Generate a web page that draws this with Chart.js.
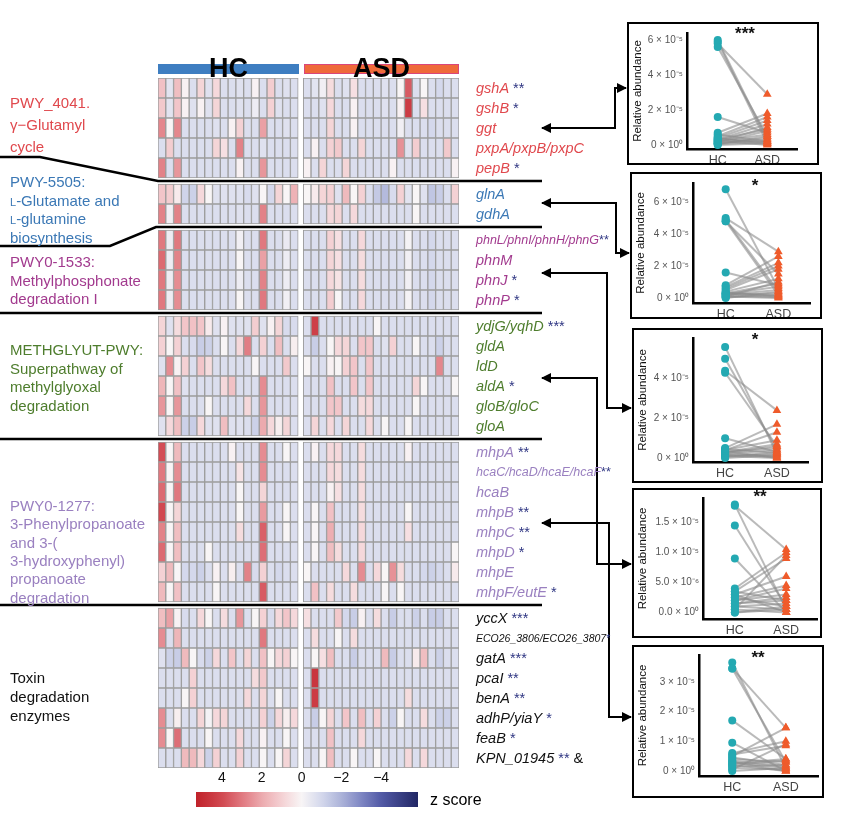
<!DOCTYPE html>
<html>
<head>
<meta charset="utf-8">
<script src="https://cdn.jsdelivr.net/npm/chart.js@4.4.1/dist/chart.umd.min.js"></script>
<style>
body { margin: 0; background: #fff; font-family: "Liberation Sans", Arial, sans-serif; }
#page { position: relative; width: 846px; height: 816px; overflow: hidden; background: #fff; }
.abs { position: absolute; white-space: nowrap; }
.box { position: absolute; border: 2.5px solid #000; box-sizing: border-box; }
</style>
</head>
<body>
<div id="page">
  <div class="abs" id="heatWrap" style="left:158px;top:78px;width:301px;height:690px;"><canvas id="heat"></canvas></div>
  <div class="abs" style="left:158px;top:64px;width:141px;height:10px;background:#3e7ec1;"></div>
  <div class="abs" style="left:304px;top:64px;width:155px;height:10px;background:#ef6a3a;box-sizing:border-box;border:1.5px solid #d9467c;"></div>
  <div class="abs" style="left:158px;top:53px;width:141px;text-align:center;font-weight:bold;font-size:27px;line-height:30px;">HC</div>
  <div class="abs" style="left:304px;top:53px;width:155px;text-align:center;font-weight:bold;font-size:27px;line-height:30px;">ASD</div>
  <div class="abs" style="left:196px;top:762px;width:222px;height:45px;"><canvas id="cbar"></canvas></div>
  <div class="abs" style="left:430px;top:790px;font-size:16px;line-height:20px;">z score</div>
  <svg class="abs" id="lines" style="left:0;top:0;" width="846" height="816"></svg>
</div>
<script>
// ---- heatmap values (z score), HC = 18 columns, ASD = 20 columns ----
var glutamylGenes = ["gshA", "gshB", "ggt", "pxpA/pxpB/pxpC", "pepB"];
var glutamylStars = ["**", "*", "", "", "*"];
var glutamylHC = [
  [1.4,-0.6,1.5,0.1,-0.8,0.9,-0.7,0.8,-0.8,-0.8,-0.7,-0.8,0.1,-0.8,1.1,-0.8,-0.7,-0.8],
  [1.2,-0.6,1.3,0.1,-0.7,0.1,-0.7,0.9,-0.8,-0.8,-0.7,-0.8,-0.3,-0.8,1.0,-0.7,-0.8,-0.8],
  [2.7,0.0,2.7,-0.8,-0.8,-0.8,-0.8,-0.7,-0.8,0.1,1.0,-0.8,-0.8,2.2,-0.8,-0.8,-0.7,-0.8],
  [-0.8,1.1,-0.8,-0.8,-0.8,-0.8,-0.8,0.9,0.6,-0.8,2.8,-0.8,-0.8,-0.7,-0.8,-0.8,-0.8,-0.8],
  [2.8,-0.8,2.4,-0.8,-0.8,-0.8,-0.8,-0.8,-0.8,-0.8,0.1,-0.8,-0.8,2.4,-0.8,-0.8,-0.8,-0.8]
];
var glutamylASD = [
  [-0.8,-0.6,-0.2,0.7,-0.8,-0.7,0.6,-0.8,-0.8,-0.8,-0.7,-0.8,0.0,3.6,-0.8,0.0,-0.8,-1.0,-0.8,-0.8],
  [-0.8,-0.8,-0.7,0.8,-0.8,-0.8,0.1,-0.8,-0.8,-0.8,-0.7,-0.8,0.1,4.4,-0.8,0.6,-0.8,-0.8,-0.8,-0.8],
  [-0.8,-0.8,-0.8,0.9,-0.8,-0.8,0.1,-0.8,-0.8,-0.8,-0.8,-0.8,-0.2,-0.8,-0.8,-0.8,-1.0,-0.8,-0.8,-0.8],
  [-0.8,0.1,-0.8,1.0,1.2,-0.8,-0.8,0.9,-0.8,-0.8,-0.8,-0.8,2.5,-0.7,1.1,-0.8,-0.8,-0.8,1.2,-0.8],
  [0.1,-0.8,0.9,-0.8,-0.8,0.9,-0.8,-0.8,-0.8,-0.8,-0.8,0.1,-0.8,-0.8,-0.8,-0.8,-0.8,-0.8,-0.8,0.1]
];

var glutamateGenes = ["glnA", "gdhA"];
var glutamateStars = ["", ""];
var glutamateHC = [
  [1.3,1.1,0.3,-1.1,-1.2,0.8,0.0,-0.7,-0.7,-0.7,-0.7,-0.9,-0.7,0.0,-1.0,0.9,0.0,1.8],
  [2.8,-0.2,2.8,-0.8,-0.8,-0.8,-0.8,-0.8,-0.8,-0.8,-0.7,-0.8,-0.8,2.8,-0.8,-0.8,-0.8,-0.8]
];
var glutamateASD = [
  [0.0,0.3,0.9,1.0,-0.7,1.6,0.0,1.0,-0.8,-1.4,-1.8,-0.9,1.0,-0.6,0.0,-0.7,-1.5,-1.3,-0.8,1.0],
  [-0.8,-0.8,-0.8,0.8,0.9,-0.8,0.8,-0.8,-0.8,-0.8,-0.8,-0.8,-0.8,-0.8,0.0,-0.8,-0.8,-0.8,-0.8,-0.8]
];

var phnGenes = ["phnL/phnI/phnH/phnG", "phnM", "phnJ", "phnP"];
var phnStars = ["**", "", "*", "*"];
var phnHC = [
  [3.0,-0.3,3.0,-0.8,-0.8,-0.8,-0.8,-0.8,-0.8,-0.8,-0.2,-0.8,-0.8,3.0,-0.8,-0.8,-0.4,-0.8],
  [3.3,-0.3,2.8,-0.8,-0.8,-0.8,-0.8,-0.8,-0.8,-0.8,0.0,-0.8,-0.8,2.2,-0.8,-0.8,-0.3,-0.8],
  [3.0,-0.3,2.6,-0.8,-0.8,-0.8,-0.8,-0.8,-0.8,-0.8,-0.3,-0.8,-0.8,2.8,-0.8,-0.8,-0.3,-0.8],
  [3.0,-0.3,2.6,-0.8,-0.8,-0.8,-0.8,-0.8,-0.8,-0.8,0.0,-0.8,-0.8,3.0,-0.8,-0.8,-0.2,-0.8]
];
var phnASD = [
  [-0.8,-0.8,-0.8,1.0,0.6,-0.8,-0.8,0.8,-0.8,-0.8,-0.8,-0.8,-0.8,-0.1,-0.8,-0.8,-1.0,-0.8,-0.8,-0.8],
  [-0.8,-0.8,-0.8,0.9,0.6,-0.8,-0.8,0.7,-0.8,-0.8,-0.8,-0.8,-0.8,-0.2,-0.8,-0.8,-1.0,-0.8,-0.8,-0.8],
  [-0.8,-0.8,-0.8,0.8,0.5,-0.8,-0.8,0.7,-0.8,-0.8,-0.8,-0.8,-0.8,-0.2,-0.8,-0.8,-1.0,-0.8,-0.8,-0.8],
  [-0.8,-0.8,-0.8,1.1,0.0,-0.8,-0.8,0.8,-0.8,-0.8,-0.8,-0.8,-0.8,-0.1,-0.8,-0.8,-1.0,-0.8,-0.8,-0.8]
];

var methGenes = ["ydjG/yqhD", "gldA", "ldD", "aldA", "gloB/gloC", "gloA"];
var methStars = ["***", "", "", "*", "", ""];
var methHC = [
  [0.9,-0.7,0.7,1.3,1.4,1.3,0.3,-0.7,0.1,-0.7,-0.7,-0.7,1.1,-0.7,0.1,0.9,-0.9,-0.9],
  [1.0,0.0,1.0,-0.8,-0.9,-1.3,-1.2,-0.8,0.0,-0.8,0.8,2.9,-0.8,1.0,-0.8,1.5,-0.8,0.2],
  [-0.7,2.6,0.1,1.0,-0.8,1.3,0.7,-0.8,-0.8,-0.8,-0.8,-0.8,0.0,-0.8,-0.8,-0.8,1.2,-0.8],
  [1.7,0.0,1.4,-0.7,-0.8,-0.8,-0.8,-0.8,0.8,1.4,-0.8,-0.8,-0.8,2.6,-0.8,-0.8,-0.8,-0.8],
  [2.4,0.0,2.4,-0.8,-0.8,-0.8,0.0,-0.8,-0.8,-0.8,-0.8,0.8,-0.8,2.4,-0.8,-0.8,-0.8,-0.8],
  [-0.7,0.8,1.5,-1.2,-1.3,0.8,-0.7,-0.7,1.5,-0.7,-0.7,-0.8,-1.2,2.0,0.8,0.2,0.9,-0.8]
];
var methASD = [
  [-0.8,4.3,-0.8,-0.8,-0.8,-0.8,-0.8,-0.8,-0.8,0.0,-0.8,-0.8,-0.8,-0.8,-0.8,-0.8,-0.8,-0.8,-0.8,-0.8],
  [-0.8,-1.3,-0.8,0.0,0.8,0.9,-0.8,1.3,1.3,-0.8,-0.7,1.0,-0.8,-0.8,0.0,-0.8,-0.8,-1.2,-0.8,-0.8],
  [0.0,-0.8,-0.8,0.1,0.0,1.0,1.3,-0.8,1.3,-0.8,-0.8,-0.8,-0.8,-0.8,-0.8,-0.8,-0.8,2.7,-0.8,-0.8],
  [-0.8,-0.8,-0.8,1.4,-0.8,-0.8,1.3,-0.8,1.3,-0.8,-0.8,-0.8,-0.8,-0.8,0.9,0.0,-0.8,-0.8,-0.8,0.0],
  [-0.8,-0.8,-0.8,1.3,1.3,-0.8,-0.8,0.7,0.8,-0.8,-0.8,-0.8,-0.8,-0.8,0.0,-0.8,-0.8,-0.8,-0.8,-0.8],
  [-0.8,0.9,-0.8,0.8,-0.8,0.9,-0.8,-0.8,0.8,-0.8,0.0,-0.8,-0.8,0.0,-0.8,-0.8,-0.8,-0.8,-0.8,-0.8]
];

var phenylGenes = ["mhpA", "hcaC/hcaD/hcaE/hcaF", "hcaB", "mhpB", "mhpC", "mhpD", "mhpE", "mhpF/eutE"];
var phenylStars = ["**", "**", "", "**", "**", "*", "", "*"];
var phenylHC = [
  [3.9,0.0,1.6,-0.8,-0.8,-0.8,-0.8,-0.8,-0.8,0.1,-0.8,-0.8,-0.8,2.6,-0.8,-0.8,0.0,-0.8],
  [3.0,0.0,2.6,-0.8,-0.8,-0.8,-0.8,-0.8,-0.8,-0.8,0.5,-0.8,-0.8,2.6,-0.8,-0.8,-0.8,-0.8],
  [3.3,0.0,3.0,-0.8,-0.8,-0.8,-0.8,-0.8,-0.8,-0.8,0.0,-0.8,-0.8,0.9,-0.8,-0.8,-0.8,-0.8],
  [4.0,0.0,0.9,-0.8,-0.8,-0.8,-0.8,-0.8,-0.8,-0.8,0.0,-0.8,-0.8,2.3,-0.8,-0.8,0.0,-0.8],
  [2.8,0.0,1.5,-0.8,-0.8,-0.8,-0.8,-0.8,-0.8,-0.8,0.7,-0.8,-0.8,3.5,-0.8,-0.8,0.0,-0.8],
  [3.3,0.0,1.5,-0.8,-0.8,-0.8,0.0,-0.8,-0.8,-0.8,-0.8,-0.8,-0.8,3.2,-0.8,-0.8,-0.8,-0.8],
  [1.0,1.6,0.0,-1.0,-1.0,-1.2,-0.8,0.1,-0.8,0.2,-0.8,2.8,-0.9,1.0,-0.8,-1.0,-0.8,-0.8],
  [1.6,0.0,1.4,-0.8,-0.8,-0.8,-0.8,0.0,-0.8,-0.8,-0.8,-0.8,-0.8,3.6,-0.8,-0.8,-0.8,-0.8]
];
var phenylASD = [
  [-0.8,0.1,-0.8,0.8,0.8,-0.8,-0.8,0.7,-0.8,-0.8,-0.8,-0.8,-0.8,0.1,-0.8,-0.8,-0.8,-0.8,-0.8,-0.8],
  [-0.8,-0.8,-0.8,0.8,0.7,-0.8,-0.8,0.7,-0.8,-0.8,-0.8,-0.8,-0.8,-0.8,-0.8,-0.8,-0.8,-0.8,-0.8,-0.8],
  [-0.8,-0.8,-0.8,0.1,0.6,-0.8,-0.8,0.7,-0.8,-0.8,-0.8,-0.8,-0.8,-0.8,-0.8,-0.8,-0.8,-0.8,-0.8,-0.8],
  [-0.8,0.0,-0.8,1.4,-0.8,-0.8,-0.8,0.7,-0.8,-0.8,-0.8,-0.8,-0.8,0.0,-0.8,-0.8,-0.8,-0.8,-0.8,-0.8],
  [-0.8,0.0,-0.8,1.9,-0.8,-0.8,-0.8,0.8,-0.8,-0.8,-0.8,-0.8,-0.8,0.6,-0.8,-0.8,-0.8,-0.8,-0.8,-0.8],
  [-0.8,0.0,-0.8,1.5,0.7,-0.8,-0.8,0.8,-0.8,-0.8,-0.8,-0.8,-0.8,-0.8,-0.8,-0.8,-0.8,-0.8,-0.8,0.0],
  [0.0,-0.8,-0.8,-0.8,-0.8,0.8,-0.8,2.6,-0.8,0.8,0.0,2.5,0.7,-0.8,-0.8,-1.0,-1.2,-1.0,-0.8,0.3],
  [-0.8,1.4,-0.8,0.7,-0.8,-0.8,0.7,-0.8,-0.8,-0.8,0.0,-0.8,0.0,-0.8,-0.8,-0.8,-0.8,-0.8,-0.8,-0.8]
];

var toxinGenes = ["yccX", "ECO26_3806/ECO26_3807", "gatA", "pcaI", "benA", "adhP/yiaY", "feaB", "KPN_01945"];
var toxinStars = ["***", "*", "***", "**", "**", "*", "*", "**"];
var toxinHC = [
  [1.5,2.2,0.1,-0.9,-0.8,0.8,0.0,-0.8,0.7,-0.8,2.4,-0.8,0.0,1.0,-0.9,0.8,1.3,0.8],
  [2.6,-0.8,1.7,-0.8,-0.8,-0.8,-0.8,-0.8,-0.8,-0.8,-0.8,-0.8,-0.8,3.0,-0.8,-0.8,-0.8,-0.8],
  [-0.7,-1.2,-1.3,1.6,0.0,-0.9,-1.2,0.8,-0.8,1.3,-0.8,0.9,-0.8,1.4,0.0,0.8,1.0,0.0],
  [-0.8,-0.8,-0.8,-0.8,1.0,-0.8,-0.8,-0.8,-0.8,-0.8,-0.8,-0.8,0.7,1.2,-0.8,-0.8,-0.8,-0.8],
  [-0.8,-0.8,-0.8,0.0,1.0,-0.8,-0.8,-0.8,-0.8,-0.8,-0.8,0.8,-0.8,0.9,-0.8,0.0,-0.8,-0.8],
  [2.6,-0.8,0.2,-0.8,-0.8,0.9,-0.1,0.8,0.9,-0.8,-0.8,-0.8,-0.8,1.0,-1.2,0.8,0.2,0.8],
  [2.6,0.0,3.2,-0.8,-0.8,-0.8,0.0,-0.8,-0.8,-0.8,0.8,-0.8,-0.8,0.1,-0.8,-0.8,0.0,-0.8],
  [-0.8,-0.8,-0.8,1.6,1.6,0.8,-1.2,1.0,-0.8,-0.8,1.0,-0.8,-0.8,0.0,-0.8,0.0,0.9,-0.8]
];
var toxinASD = [
  [0.6,-0.8,-0.8,-0.8,1.2,-1.0,-1.3,0.1,-0.8,0.7,-0.8,-1.3,-0.8,-0.8,-1.2,-0.8,-1.3,-1.3,-0.8,-0.8],
  [-0.8,0.7,-0.8,-0.8,0.0,-0.8,0.7,-0.8,-0.8,-0.8,-0.8,-0.8,-0.8,-0.8,-0.8,-0.8,-0.8,-0.8,-0.8,-0.8],
  [-0.8,0.0,0.6,1.5,-0.8,-0.8,-1.3,-0.8,-0.8,-0.8,1.6,-1.3,-0.8,-0.8,0.3,1.5,-0.8,-1.2,-0.8,-0.8],
  [-0.8,4.6,-0.8,-0.8,-0.8,-0.8,-0.8,-0.8,-0.8,-0.8,-0.8,-0.8,-0.8,-0.8,-0.8,-0.8,-0.8,-0.8,-0.8,-0.8],
  [-0.8,4.4,-0.8,-0.8,-0.8,-0.8,-0.8,-0.8,-0.8,-0.8,-0.8,-0.8,-0.8,0.7,-0.8,-0.8,-0.8,-0.8,-0.8,-0.8],
  [-0.8,-1.3,0.0,0.9,-0.8,1.3,-0.8,1.5,-0.8,1.0,-0.8,-1.2,0.0,-0.8,-0.8,0.7,-0.8,-1.2,-1.2,-0.8],
  [-0.8,-0.8,-0.8,1.4,-0.8,-0.8,-0.8,0.8,-0.8,-0.8,-0.8,-0.8,-0.8,-0.8,-0.8,-0.8,-0.8,-0.8,-0.8,-0.8],
  [-0.8,-0.8,0.0,1.5,-0.8,-0.8,0.0,-0.8,-0.8,0.0,-0.8,-0.8,-0.8,0.8,-0.8,0.8,-0.8,-0.8,-0.8,-0.8]
];

// colour bar
var cbarTicks = [4, 2, 0, -2, -4];
var cbarMin = -5.85, cbarMax = 5.3;

// ---- paired abundance panels (HC[i] paired with ASD[i]) ----
var gshAHC  = [6.0e-5,5.9e-5,5.8e-5,5.6e-5,1.6e-5,0.7e-5,0.6e-5,0.5e-5,0.4e-5,0.4e-5,0.3e-5,0.3e-5,0.2e-5,0.2e-5,0.1e-5,0.1e-5,0.05e-5,0.0,0.15e-5,0.25e-5,0.05e-5,0.35e-5];
var gshAASD = [0.3e-5,0.1e-5,2.9e-5,0.5e-5,0.7e-5,1.8e-5,0.2e-5,1.6e-5,1.4e-5,0.05e-5,1.2e-5,0.9e-5,1.0e-5,0.6e-5,0.4e-5,0.3e-5,0.2e-5,0.1e-5,0.8e-5,0.0,0.5e-5,0.15e-5];
var glnAHC  = [6.8e-5,5.0e-5,4.9e-5,4.8e-5,4.8e-5,1.6e-5,0.8e-5,0.7e-5,0.6e-5,0.5e-5,0.4e-5,0.3e-5,0.3e-5,0.2e-5,0.2e-5,0.1e-5,0.1e-5,0.05e-5,0.0,0.35e-5,0.25e-5,0.15e-5];
var glnAASD = [0.6e-5,2.9e-5,0.4e-5,1.5e-5,0.2e-5,0.8e-5,2.6e-5,2.2e-5,2.0e-5,1.8e-5,1.2e-5,0.9e-5,0.1e-5,0.5e-5,0.3e-5,0.0,1.0e-5,0.2e-5,0.4e-5,0.15e-5,0.7e-5,0.05e-5];
var phnMHC  = [5.6e-5,5.0e-5,4.4e-5,4.3e-5,1.0e-5,0.5e-5,0.4e-5,0.4e-5,0.3e-5,0.3e-5,0.2e-5,0.2e-5,0.1e-5,0.1e-5,0.05e-5,0.0,0.15e-5,0.25e-5,0.35e-5,0.45e-5];
var phnMASD = [0.2e-5,0.4e-5,2.4e-5,0.6e-5,0.3e-5,1.7e-5,1.3e-5,0.9e-5,0.7e-5,0.5e-5,0.1e-5,0.4e-5,0.0,0.2e-5,0.3e-5,0.15e-5,0.05e-5,0.6e-5,0.0,0.25e-5];
var aldAHC  = [1.8e-5,1.78e-5,1.45e-5,0.9e-5,0.4e-5,0.35e-5,0.3e-5,0.25e-5,0.2e-5,0.2e-5,0.15e-5,0.1e-5,0.1e-5,0.05e-5,0.0,0.3e-5,0.15e-5,0.05e-5,0.25e-5,0.35e-5,0.0];
var aldAASD = [0.05e-5,1.05e-5,0.1e-5,0.0,1.0e-5,0.9e-5,0.6e-5,0.45e-5,0.4e-5,0.3e-5,0.2e-5,0.15e-5,0.05e-5,0.95e-5,0.1e-5,0.0,0.25e-5,0.0,0.1e-5,0.2e-5,0.05e-5];
var mhpBHC  = [3.65e-5,3.45e-5,3.45e-5,1.7e-5,0.95e-5,0.6e-5,0.55e-5,0.5e-5,0.4e-5,0.35e-5,0.3e-5,0.25e-5,0.2e-5,0.15e-5,0.1e-5,0.05e-5,0.0,0.3e-5,0.45e-5,0.2e-5];
var mhpBASD = [0.1e-5,1.45e-5,0.3e-5,0.4e-5,0.0,1.0e-5,0.85e-5,1.45e-5,0.3e-5,0.15e-5,0.1e-5,0.4e-5,0.0,0.2e-5,0.05e-5,0.9e-5,0.1e-5,0.0,0.2e-5,0.35e-5];

// ---- colour scale ----
var posStops = [[0,[248,245,246]],[1,[244,209,212]],[2,[236,170,174]],[3,[224,120,127]],[4,[209,72,80]],[5.3,[192,34,42]]];
var negStops = [[0,[248,245,246]],[1,[212,216,236]],[2,[172,179,217]],[3,[126,134,195]],[4,[82,90,166]],[5.85,[33,38,100]]];
function zColor(z) {
    var stops = z >= 0 ? posStops : negStops;
    var a = Math.abs(z);
    for (var i = 1; i < stops.length; i++) {
        if (a <= stops[i][0] || i === stops.length - 1) {
            var t = Math.min(1, (a - stops[i - 1][0]) / (stops[i][0] - stops[i - 1][0]));
            var c0 = stops[i - 1][1], c1 = stops[i][1];
            return "rgb(" + Math.round(c0[0] + (c1[0] - c0[0]) * t) + "," +
                Math.round(c0[1] + (c1[1] - c0[1]) * t) + "," +
                Math.round(c0[2] + (c1[2] - c0[2]) * t) + ")";
        }
    }
}

var groups = [
    { genes: glutamylGenes, stars: glutamylStars, hc: glutamylHC, asd: glutamylASD, color: "#e0484d" },
    { genes: glutamateGenes, stars: glutamateStars, hc: glutamateHC, asd: glutamateASD, color: "#3b78b5" },
    { genes: phnGenes, stars: phnStars, hc: phnHC, asd: phnASD, color: "#a23a8e" },
    { genes: methGenes, stars: methStars, hc: methHC, asd: methASD, color: "#4e7d2d" },
    { genes: phenylGenes, stars: phenylStars, hc: phenylHC, asd: phenylASD, color: "#9a80c0" },
    { genes: toxinGenes, stars: toxinStars, hc: toxinHC, asd: toxinASD, color: "#111111" }
];

var groupGap = 0.3;   // gap between pathway blocks, in rows
var sideGap = 0.65;   // gap between HC and ASD blocks, in columns
var hcCount = 18, asdCount = 20;

var cells = [];
var rowCenters = [];
var rowIndex = 0;
groups.forEach(function (g, gi) {
    g.hc.forEach(function (row, ri) {
        var top = rowIndex + gi * groupGap;
        row.forEach(function (z, ci) {
            cells.push({ x: ci, y: [top, top + 1], z: z });
        });
        g.asd[ri].forEach(function (z, ci) {
            cells.push({ x: hcCount + sideGap + ci, y: [top, top + 1], z: z });
        });
        rowCenters.push({ g: gi, r: ri, v: top + 0.5 });
        rowIndex++;
    });
});
var rowMax = rowIndex + (groups.length - 1) * groupGap;

var heat = new Chart(document.getElementById("heat"), {
    type: "bar",
    data: {
        datasets: [{
            data: cells,
            backgroundColor: function (c) { return c.raw ? zColor(c.raw.z) : "#fff"; },
            borderColor: "#9c9c9c",
            borderWidth: 1,
            borderSkipped: false,
            barPercentage: 1,
            categoryPercentage: 1
        }]
    },
    options: {
        responsive: true,
        maintainAspectRatio: false,
        animation: false,
        layout: { padding: 0 },
        plugins: { legend: { display: false }, tooltip: { enabled: false } },
        scales: {
            x: {
                type: "linear", display: false, offset: false,
                min: -0.5, max: hcCount + sideGap + asdCount - 0.5,
                afterBuildTicks: function (s) { s.ticks = [{ value: 0 }, { value: 1 }]; }
            },
            y: { type: "linear", display: false, offset: false, min: 0, max: rowMax, reverse: true }
        }
    }
});

var page = document.getElementById("page");
function addText(html, x, yc, style) {
    var d = document.createElement("div");
    d.className = "abs";
    d.innerHTML = html;
    d.style.cssText += "left:" + x + "px;top:" + (yc - 10) + "px;line-height:20px;" + (style || "");
    page.appendChild(d);
    return d;
}

// gene labels at row centres
rowCenters.forEach(function (rc) {
    var g = groups[rc.g];
    var name = g.genes[rc.r];
    var star = g.stars[rc.r];
    var fs = name.length > 20 ? 10.5 : (name.length > 16 ? 12.5 : 14.5);
    var y = 78 + heat.scales.y.getPixelForValue(rc.v);
    var sep = name.length > 16 ? "" : " ";
    var html = "<i>" + name + "</i>" + (star ? sep + "<span style='color:#2e3582'>" + star + "</span>" : "");
    if (name === "KPN_01945") html += " <span style='color:#111'>&amp;</span>";
    addText(html, 476, y, "font-size:" + fs + "px;color:" + g.color + ";");
});

// pathway names
var sc = "<span style='font-variant:small-caps'>l</span>";
var pathwayLabels = [
    { lines: ["PWY_4041.", "\u03b3\u2212Glutamyl", "cycle"], y: 103, step: 22, color: "#e0484d" },
    { lines: ["PWY-5505:", sc + "-Glutamate and", sc + "-glutamine", "biosynthesis"], y: 182, step: 18.5, color: "#3b78b5" },
    { lines: ["PWY0-1533:", "Methylphosphonate", "degradation I"], y: 262, step: 18.5, color: "#a23a8e" },
    { lines: ["METHGLYUT-PWY:", "Superpathway of", "methylglyoxal", "degradation"], y: 350, step: 18.5, color: "#4e7d2d" },
    { lines: ["PWY0-1277:", "3-Phenylpropanoate", "and 3-(", "3-hydroxyphenyl)", "propanoate", "degradation"], y: 506, step: 18.3, color: "#9a80c0" },
    { lines: ["Toxin", "degradation", "enzymes"], y: 678, step: 19, color: "#111" }
];
pathwayLabels.forEach(function (p) {
    p.lines.forEach(function (t, i) {
        addText(t, 10, p.y + i * p.step, "font-size:15px;color:" + p.color + ";");
    });
});

// colour bar
new Chart(document.getElementById("cbar"), {
    type: "bar",
    data: {
        labels: ["z"],
        datasets: [{
            data: [[cbarMax, cbarMin]],
            backgroundColor: function (c) {
                var a = c.chart.chartArea;
                if (!a) return "#fff";
                var grad = c.chart.ctx.createLinearGradient(a.left, 0, a.right, 0);
                for (var k = 0; k <= 40; k++) {
                    grad.addColorStop(k / 40, zColor(cbarMax - (cbarMax - cbarMin) * k / 40));
                }
                return grad;
            },
            borderWidth: 0,
            barPercentage: 1,
            categoryPercentage: 1
        }]
    },
    options: {
        indexAxis: "y",
        responsive: true,
        maintainAspectRatio: false,
        animation: false,
        layout: { padding: 0 },
        plugins: { legend: { display: false }, tooltip: { enabled: false } },
        scales: {
            x: {
                type: "linear", position: "top", reverse: true, min: cbarMin, max: cbarMax,
                grid: { display: false, drawTicks: false }, border: { display: false },
                ticks: {
                    color: "#111", font: { size: 14, family: "Liberation Sans" }, padding: 5,
                    callback: function (v) { return v < 0 ? "\u2212" + Math.abs(v) : String(v); }
                },
                afterBuildTicks: function (s) { s.ticks = cbarTicks.map(function (v) { return { value: v }; }); },
                afterFit: function (s) { s.height = 30; }
            },
            y: { display: false }
        }
    }
});

// ---- paired panels ----
var panels = [
    { hc: gshAHC, asd: gshAASD, stars: "***", ticks: [0, 2e-5, 4e-5, 6e-5], labels: ["0 \u00d7 10\u2070", "2 \u00d7 10\u207b\u2075", "4 \u00d7 10\u207b\u2075", "6 \u00d7 10\u207b\u2075"],
      yMin: -0.23e-5, yMax: 6.4e-5, box: [627, 22, 819, 165], area: [687, 33, 797, 149], starX: 745, starY: 34 },
    { hc: glnAHC, asd: glnAASD, stars: "*", ticks: [0, 2e-5, 4e-5, 6e-5], labels: ["0 \u00d7 10\u2070", "2 \u00d7 10\u207b\u2075", "4 \u00d7 10\u207b\u2075", "6 \u00d7 10\u207b\u2075"],
      yMin: -0.31e-5, yMax: 7.19e-5, box: [630, 172, 822, 319], area: [693, 183, 810, 303], starX: 755, starY: 186 },
    { hc: phnMHC, asd: phnMASD, stars: "*", ticks: [0, 2e-5, 4e-5], labels: ["0 \u00d7 10\u2070", "2 \u00d7 10\u207b\u2075", "4 \u00d7 10\u207b\u2075"],
      yMin: -0.2e-5, yMax: 6.05e-5, box: [632, 328, 823, 483], area: [693, 337, 808, 462], starX: 755, starY: 340 },
    { hc: aldAHC, asd: aldAASD, stars: "**", ticks: [0, 0.5e-5, 1e-5, 1.5e-5], labels: ["0.0 \u00d7 10\u2070", "5.0 \u00d7 10\u207b\u2076", "1.0 \u00d7 10\u207b\u2075", "1.5 \u00d7 10\u207b\u2075"],
      yMin: -0.11e-5, yMax: 1.91e-5, box: [632, 488, 822, 638], area: [703, 492, 819, 619], starX: 760, starY: 497 },
    { hc: mhpBHC, asd: mhpBASD, stars: "**", ticks: [0, 1e-5, 2e-5, 3e-5], labels: ["0 \u00d7 10\u2070", "1 \u00d7 10\u207b\u2075", "2 \u00d7 10\u207b\u2075", "3 \u00d7 10\u207b\u2075"],
      yMin: -0.17e-5, yMax: 3.9e-5, box: [632, 645, 824, 798], area: [699, 655, 818, 776], starX: 758, starY: 658 }
];

panels.forEach(function (p, pi) {
    var b = p.box, a = p.area;
    var wrap = document.createElement("div");
    wrap.className = "abs";
    wrap.style.cssText = "left:" + b[0] + "px;top:" + b[1] + "px;width:" + (b[2] - b[0]) + "px;height:" + (b[3] - b[1]) + "px;";
    var cv = document.createElement("canvas");
    wrap.appendChild(cv);
    page.appendChild(wrap);
    var frame = document.createElement("div");
    frame.className = "box";
    frame.style.cssText = "left:" + b[0] + "px;top:" + b[1] + "px;width:" + (b[2] - b[0]) + "px;height:" + (b[3] - b[1]) + "px;";
    page.appendChild(frame);
    addText(p.stars, p.starX - 30, p.starY, "width:60px;text-align:center;font-size:17px;font-weight:bold;color:#111;");

    var datasets = [
        { data: p.hc.map(function (v) { return { x: 1, y: v }; }), pointStyle: "circle", pointRadius: 4,
          pointBackgroundColor: "#24a9b2", pointBorderWidth: 0, showLine: false, order: 0 },
        { data: p.asd.map(function (v) { return { x: 2, y: v }; }), pointStyle: "triangle", pointRadius: 5,
          pointBackgroundColor: "#ef5b2b", pointBorderWidth: 0, showLine: false, order: 0 }
    ];
    p.hc.forEach(function (v, i) {
        datasets.push({ data: [{ x: 1, y: v }, { x: 2, y: p.asd[i] }], showLine: true, pointRadius: 0,
            borderColor: "rgba(140,140,140,0.6)", borderWidth: 2, order: 1 });
    });

    new Chart(cv, {
        type: "scatter",
        data: { datasets: datasets },
        options: {
            responsive: true,
            maintainAspectRatio: false,
            animation: false,
            clip: false,
            layout: { padding: { left: 0, top: a[1] - b[1], right: b[2] - a[2], bottom: 0 } },
            plugins: { legend: { display: false }, tooltip: { enabled: false } },
            scales: {
                x: {
                    type: "linear", min: 0.38, max: 2.6,
                    grid: { display: false, drawTicks: false }, border: { display: true, color: "#000", width: 2.5 },
                    ticks: { color: "#444", font: { size: 12.5, family: "Liberation Sans" }, padding: 4,
                        callback: function (v) { return v === 1 ? "HC" : (v === 2 ? "ASD" : ""); } },
                    afterBuildTicks: function (s) { s.ticks = [{ value: 1 }, { value: 2 }]; },
                    afterFit: function (s) { s.height = b[3] - a[3]; }
                },
                y: {
                    type: "linear", min: p.yMin, max: p.yMax,
                    grid: { display: false, drawTicks: false }, border: { display: true, color: "#000", width: 2.5 },
                    ticks: { color: "#555", font: { size: 10, family: "Liberation Sans" }, padding: 4,
                        callback: function (v) { var k = p.ticks.indexOf(v); return k >= 0 ? p.labels[k] : ""; } },
                    afterBuildTicks: function (s) { s.ticks = p.ticks.map(function (v) { return { value: v }; }); },
                    afterFit: function (s) { s.width = a[0] - b[0]; },
                    title: { display: true, text: "Relative abundance", color: "#111", font: { size: 11.5, family: "Liberation Sans" }, padding: { top: 4, bottom: 0 } }
                }
            }
        }
    });
});

// ---- separators and arrows ----
var svg = document.getElementById("lines");
var NS = "http://www.w3.org/2000/svg";
var defs = document.createElementNS(NS, "defs");
defs.innerHTML = '<marker id="ah" viewBox="0 0 10 10" refX="9" refY="5" markerWidth="5" markerHeight="5" markerUnits="strokeWidth" orient="auto-start-reverse"><path d="M0,0 L10,5 L0,10 Z" fill="#000"/></marker>';
svg.appendChild(defs);
function poly(pts, arrows) {
    var el = document.createElementNS(NS, "polyline");
    el.setAttribute("points", pts.map(function (q) { return q.join(","); }).join(" "));
    el.setAttribute("fill", "none");
    el.setAttribute("stroke", "#000");
    el.setAttribute("stroke-width", arrows ? 2 : 2.5);
    if (arrows) {
        el.setAttribute("marker-start", "url(#ah)");
        el.setAttribute("marker-end", "url(#ah)");
    }
    svg.appendChild(el);
}
poly([[0, 157], [40, 157], [158, 181], [542, 181]]);
poly([[0, 246], [110, 246], [156, 227], [542, 227]]);
poly([[0, 313], [542, 313]]);
poly([[0, 439], [542, 439]]);
poly([[0, 605], [542, 605]]);
poly([[542, 128], [615, 128], [615, 88], [626, 88]], true);
poly([[542, 203], [616, 203], [616, 253], [629, 253]], true);
poly([[542, 273], [607, 273], [607, 408], [631, 408]], true);
poly([[542, 378], [597, 378], [597, 564], [631, 564]], true);
poly([[542, 523], [609, 523], [609, 717], [631, 717]], true);
</script>
</body>
</html>
